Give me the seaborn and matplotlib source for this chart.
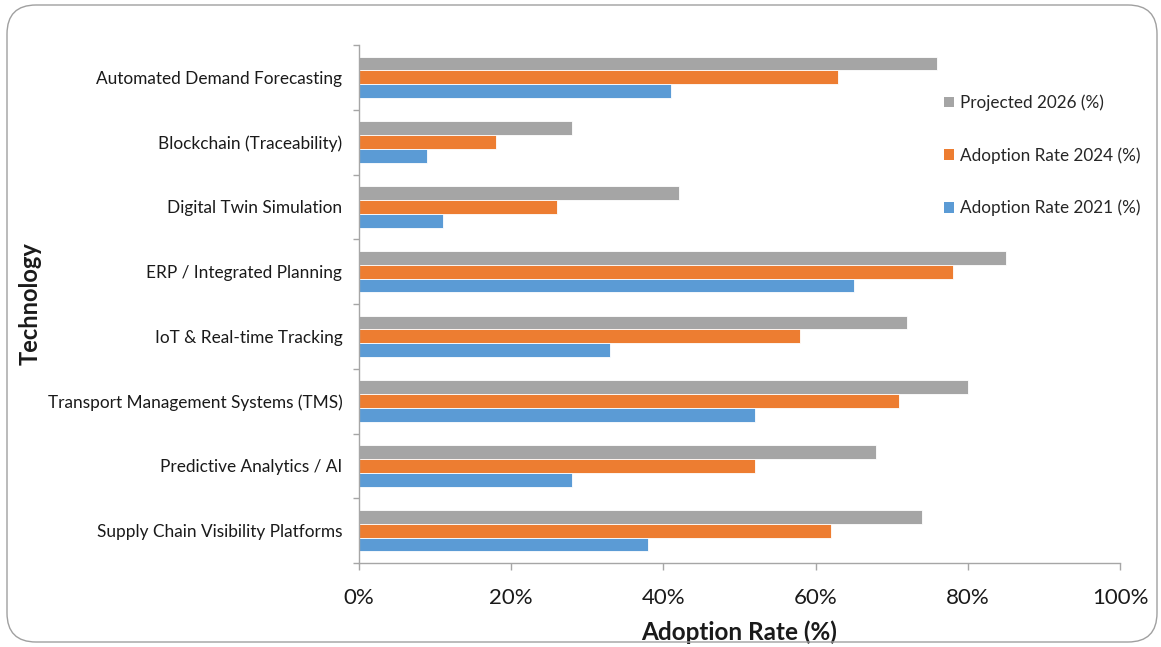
import matplotlib
matplotlib.use("Agg")
import matplotlib.pyplot as plt
import seaborn as sns
import pandas as pd
import numpy as np
from matplotlib.patches import FancyBboxPatch, Patch
from matplotlib.ticker import FixedLocator, PercentFormatter

technologies = [
    "Automated Demand Forecasting",
    "Blockchain (Traceability)",
    "Digital Twin Simulation",
    "ERP / Integrated Planning",
    "IoT & Real-time Tracking",
    "Transport Management Systems (TMS)",
    "Predictive Analytics / AI",
    "Supply Chain Visibility Platforms",
]
projected_2026 = [76, 28, 42, 85, 72, 80, 68, 74]
adoption_2024 = [63, 18, 26, 78, 58, 71, 52, 62]
adoption_2021 = [41, 9, 11, 65, 33, 52, 28, 38]

series_names = ["Projected 2026 (%)", "Adoption Rate 2024 (%)", "Adoption Rate 2021 (%)"]
series_colors = ["#A5A5A5", "#ED7D31", "#5B9BD5"]

df = pd.DataFrame({
    "Technology": technologies * 3,
    "Series": np.repeat(series_names, len(technologies)),
    "Rate": projected_2026 + adoption_2024 + adoption_2021,
})

sns.set_theme(style="white")
plt.rcParams["font.family"] = ["Lato", "DejaVu Sans"]

fig = plt.figure(figsize=(11.61, 6.47), dpi=100)
ax = fig.add_axes([0.3092, 0.1298, 0.6555, 0.8006])

sns.barplot(
    data=df, y="Technology", x="Rate", hue="Series",
    order=technologies, hue_order=series_names,
    palette=series_colors, saturation=1, orient="h", width=0.64,
    edgecolor="white", linewidth=0.6, legend=False, ax=ax,
)

ax.set_xlim(0, 100)
ax.set_ylim(len(technologies) - 0.5, -0.5)
ax.xaxis.set_major_locator(FixedLocator([0, 20, 40, 60, 80, 100]))
ax.xaxis.set_major_formatter(PercentFormatter(decimals=0))

spine_color = "#A6A6A6"
for side in ("top", "right"):
    ax.spines[side].set_visible(False)
for side in ("left", "bottom"):
    ax.spines[side].set_color(spine_color)
    ax.spines[side].set_linewidth(1.0)

ax.tick_params(axis="x", which="major", direction="out", length=5, width=1,
               color=spine_color, labelsize=16, pad=13, bottom=True)
ax.tick_params(axis="y", which="major", length=0, labelsize=12.4, pad=12)
ax.yaxis.set_minor_locator(FixedLocator(np.arange(-0.5, len(technologies), 1.0)))
ax.tick_params(axis="y", which="minor", direction="out", length=4, width=1,
               color=spine_color, left=True)
for lbl in ax.get_xticklabels() + ax.get_yticklabels():
    lbl.set_color("#1A1A1A")
for lbl in ax.get_yticklabels():
    lbl.set_y(lbl.get_position()[1])

ax.set_xlabel("Adoption Rate (%)", fontsize=17.5, fontweight="bold", labelpad=9, color="#1A1A1A")
ax.set_ylabel("Technology", fontsize=17, fontweight="bold", color="#1A1A1A")
ax.yaxis.set_label_coords(-0.4166, 0.5)

handles = [Patch(facecolor=c, edgecolor="none") for c in series_colors]
ax.legend(handles, series_names, loc="upper left", bbox_to_anchor=(0.76, 0.918),
          frameon=False, fontsize=12.3, handlelength=0.55, handleheight=0.55,
          handletextpad=0.4, labelspacing=2.12, borderaxespad=0)

border = FancyBboxPatch((7 / 1161, 5 / 647), 1150 / 1161, 637 / 647,
                        boxstyle="round,pad=0,rounding_size=0.025",
                        transform=fig.transFigure, facecolor="none",
                        edgecolor="#A0A0A0", linewidth=1.0, mutation_aspect=1161 / 647)
fig.patches.append(border)

fig.savefig("out.png", dpi=100)
